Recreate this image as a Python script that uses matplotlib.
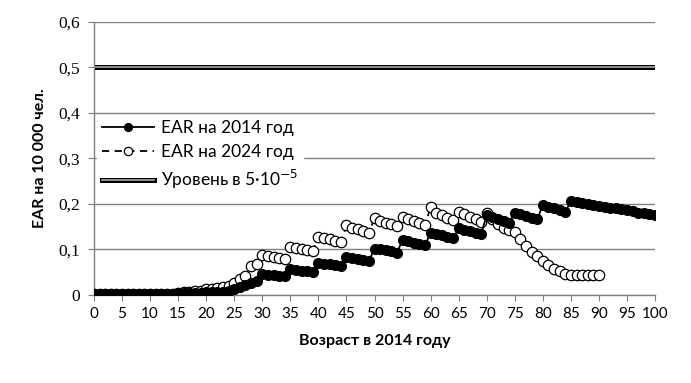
import matplotlib
matplotlib.use("Agg")
import matplotlib.pyplot as plt
import matplotlib.patheffects as pe
import numpy as np

# возраст в 2014 году
ages_2014 = list(range(0, 101))
ages_2024 = list(range(0, 91))

# EAR на 10 000 чел.
ear_2014 = [
    0.001, 0.001, 0.001, 0.001, 0.001, 0.001, 0.001, 0.001, 0.001, 0.001,
    0.002, 0.002, 0.002, 0.002, 0.002, 0.004, 0.004, 0.004, 0.004, 0.004,
    0.006, 0.006, 0.007, 0.007, 0.008, 0.012, 0.017, 0.022, 0.027, 0.030,
    0.045, 0.044, 0.043, 0.042, 0.041, 0.057, 0.055, 0.053, 0.052, 0.050,
    0.071, 0.069, 0.067, 0.065, 0.063, 0.084, 0.081, 0.079, 0.077, 0.075,
    0.102, 0.100, 0.098, 0.096, 0.093, 0.121, 0.118, 0.115, 0.112, 0.109,
    0.137, 0.134, 0.131, 0.128, 0.125, 0.146, 0.143, 0.140, 0.137, 0.134,
    0.175, 0.171, 0.167, 0.163, 0.159, 0.181, 0.178, 0.174, 0.170, 0.166,
    0.198, 0.194, 0.190, 0.186, 0.182, 0.207, 0.204, 0.202, 0.200, 0.198,
    0.196, 0.194, 0.192, 0.190, 0.188, 0.186, 0.184, 0.181, 0.179, 0.177,
    0.175,
]
ear_2024 = [
    0.001, 0.001, 0.001, 0.001, 0.001, 0.001, 0.001, 0.001, 0.001, 0.001,
    0.002, 0.002, 0.002, 0.002, 0.003, 0.005, 0.006, 0.007, 0.008, 0.009,
    0.012, 0.014, 0.016, 0.018, 0.020, 0.026, 0.034, 0.042, 0.063, 0.068,
    0.088, 0.086, 0.084, 0.082, 0.080, 0.106, 0.103, 0.101, 0.099, 0.097,
    0.128, 0.125, 0.122, 0.119, 0.116, 0.153, 0.147, 0.144, 0.141, 0.137,
    0.169, 0.162, 0.159, 0.156, 0.152, 0.172, 0.166, 0.162, 0.158, 0.154,
    0.193, 0.180, 0.176, 0.170, 0.164, 0.183, 0.177, 0.172, 0.167, 0.160,
    0.180, 0.166, 0.155, 0.148, 0.142, 0.138, 0.122, 0.107, 0.095, 0.085,
    0.074, 0.065, 0.058, 0.052, 0.047, 0.044, 0.044, 0.044, 0.044, 0.044,
    0.044,
]
level = 0.5

sans = ['Lato', 'DejaVu Sans']

fig = plt.figure(figsize=(6.91, 3.83), dpi=100)
ax = fig.add_axes([0.136, 0.230, 0.812, 0.7126])

ax.plot(ages_2014, ear_2014, color='black', lw=1.3, marker='o', ms=7,
        mfc='black', mec='black', label='EAR на 2014 год', zorder=4)
ax.plot(ages_2024, ear_2024, color='black', lw=1.3, ls=(0, (4, 3)), marker='o',
        ms=7.5, mfc='white', mec='black', mew=0.9, label='EAR на 2024 год', zorder=3)
ax.plot([0, 100], [level, level], color='#9a9a9a', lw=1.3,
        path_effects=[pe.Stroke(linewidth=3.6, foreground='black'), pe.Normal()],
        label='Уровень в 5·10$^{-5}$', zorder=2)

ax.set_xlim(0, 100)
ax.set_ylim(0, 0.6)
ax.set_xticks(np.arange(0, 101, 5))
ax.set_yticks(np.arange(0, 0.61, 0.1))
ax.set_yticklabels(['0', '0,1', '0,2', '0,3', '0,4', '0,5', '0,6'],
                   family='Liberation Serif', fontsize=12.5)
ax.set_xticklabels([str(v) for v in range(0, 101, 5)], family=sans, fontsize=11)
ax.tick_params(axis='x', direction='out', length=4, color='#808080', pad=5)
ax.tick_params(axis='y', direction='out', length=4, color='#808080', pad=6)
ax.margins(0)

ax.grid(axis='y', color='#808080', lw=1)
ax.set_axisbelow(True)
for s in ['top', 'right']:
    ax.spines[s].set_visible(False)
for s in ['left', 'bottom']:
    ax.spines[s].set_color('#808080')
    ax.spines[s].set_linewidth(1)

ax.set_xlabel('Возраст в 2014 году', family=sans, fontweight='bold', fontsize=11.5, labelpad=9)
ax.set_ylabel('EAR на 10 000 чел.', family=sans, fontweight='bold', fontsize=11.5, labelpad=8)

leg = ax.legend(loc='upper left', bbox_to_anchor=(0.0, 0.67), frameon=True,
                prop={'family': sans, 'size': 12.5}, handlelength=3.0,
                handletextpad=0.4, labelspacing=0.45, borderpad=0.25,
                borderaxespad=0.2, fancybox=False, markerscale=0.8)
leg.get_frame().set_edgecolor('white')
leg.get_frame().set_facecolor('white')
leg.get_frame().set_alpha(1)

fig.savefig('out.png', dpi=100)
